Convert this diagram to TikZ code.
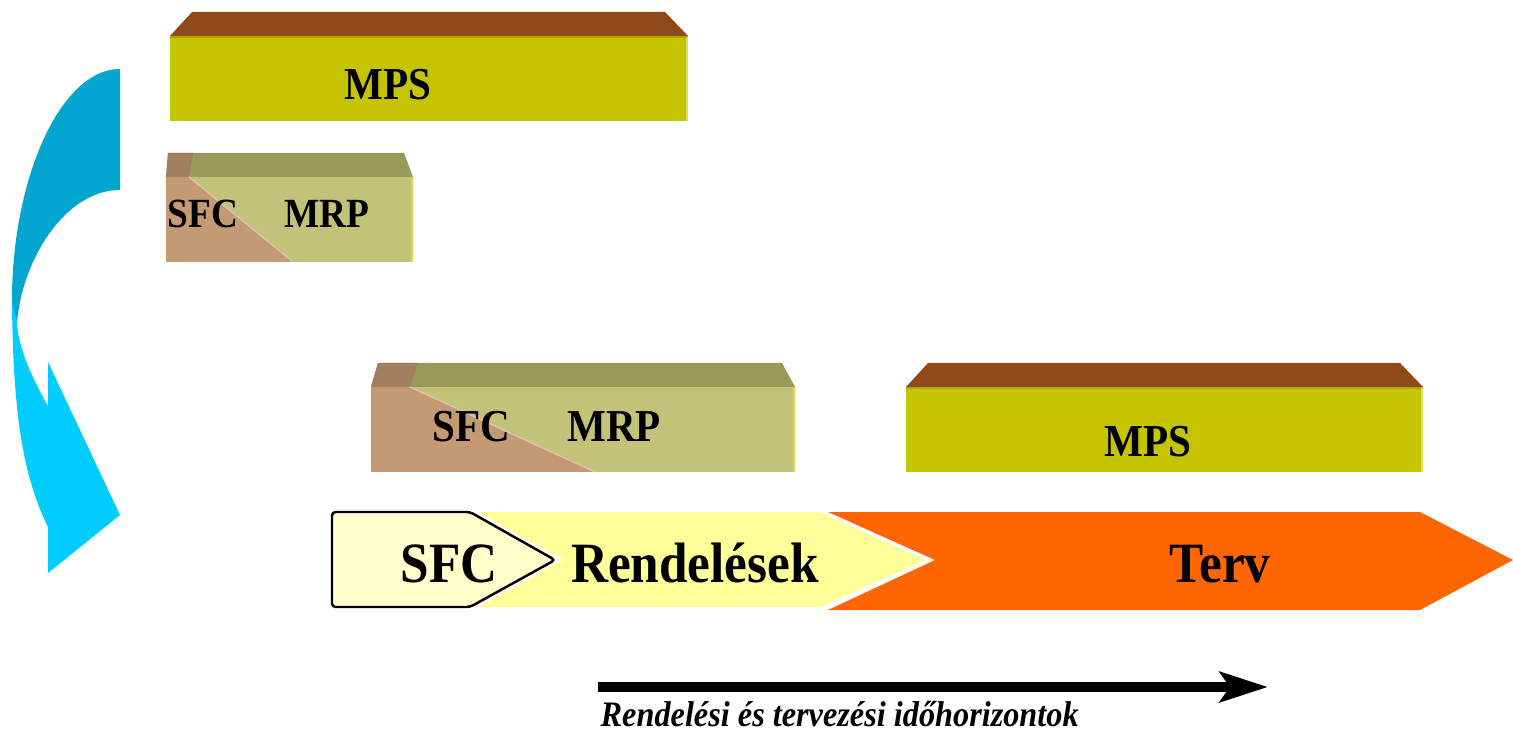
\documentclass[tikz,border=0pt]{standalone}
\usepackage{fontspec}
\setmainfont{Liberation Serif}[FakeStretch=0.9]
\usepackage{tikz}
\usetikzlibrary{arrows.meta}

\definecolor{mpsfront}{HTML}{C4C400}
\definecolor{mpstop}{HTML}{904A1A}
\definecolor{mrpfront}{HTML}{C2C278}
\definecolor{mrptop}{HTML}{999959}
\definecolor{sfcfront}{HTML}{C49A74}
\definecolor{sfctop}{HTML}{A07E5E}
\definecolor{backblue}{HTML}{00A6CF}
\definecolor{frontblue}{HTML}{00CCFF}
\definecolor{sfcfill}{HTML}{FFFFCC}
\definecolor{ordfill}{HTML}{FFFF99}
\definecolor{planfill}{HTML}{FF6600}

\begin{document}
\begin{tikzpicture}[x=0.01cm, y=-0.01cm]
      \tikzstyle{boxtext} = [
        font=\fontsize{13}{15}\selectfont\bfseries,
        anchor=base,
        inner sep=0pt
      ]

      \tikzstyle{smalltext} = [
        font=\fontsize{11.8}{14}\selectfont\bfseries,
        anchor=base,
        inner sep=0pt
      ]

      \tikzstyle{bartext} = [
        font=\fontsize{16.2}{19}\selectfont\bfseries,
        anchor=base,
        inner sep=0pt
      ]

      \tikzstyle{axistext} = [
        font=\fontsize{10.2}{12}\selectfont\bfseries\itshape,
        anchor=base west,
        inner sep=0pt
      ]

      \useasboundingbox (0,0) rectangle (1513,731);

      % curved arrow on the left
      \fill[frontblue] (12,290) .. controls (12,420) and (25,480) .. (48,527)
        -- (48,573) -- (120,515) -- (48,362) -- (48,406)
        .. controls (30,375) and (18,345) .. (17,323) -- cycle;
      \fill[backblue] (120,69) -- (120,190) .. controls (65,190) and (22,260) .. (17,323)
        -- (12,300) .. controls (12,180) and (60,69) .. (120,69) -- cycle;

      % upper MPS box
      \fill[mpstop] (170,36) -- (192,12) -- (665,12) -- (688,36) -- cycle;
      \fill[mpsfront] (170,36) rectangle (688,121);
      \draw[mpsfront!85!black] (170,37) -- (688,37);
      \draw[mpsfront!60!white] (687,37) -- (687,121);

      % upper SFC / MRP box
      \fill[mrptop] (168,153) -- (404,153) -- (413,177) -- (166,177) -- cycle;
      \fill[sfctop] (168,153) -- (193,153) -- (189,177) -- (166,177) -- cycle;
      \fill[mrpfront] (166,177) rectangle (413,262);
      \fill[sfcfront] (166,177) -- (189,177) -- (293,262) -- (166,262) -- cycle;
      \draw[sfcfront!60!white] (189,177) -- (293,262);
      \draw[mrpfront!60!yellow] (412,177) -- (412,262);

      % lower SFC / MRP box
      \fill[mrptop] (378,363) -- (782,363) -- (795,387) -- (371,387) -- cycle;
      \fill[sfctop] (378,363) -- (418,363) -- (410,387) -- (371,387) -- cycle;
      \fill[mrpfront] (371,387) rectangle (795,472);
      \fill[sfcfront] (371,387) -- (410,387) -- (595,472) -- (371,472) -- cycle;
      \draw[sfcfront!60!white] (410,387) -- (595,472);
      \draw[mrpfront!60!yellow] (794,387) -- (794,472);

      % lower MPS box
      \fill[mpstop] (906,387) -- (928,363) -- (1400,363) -- (1423,387) -- cycle;
      \fill[mpsfront] (906,387) rectangle (1423,472);
      \draw[mpsfront!85!black] (906,388) -- (1423,388);
      \draw[mpsfront!60!white] (1422,388) -- (1422,472);

      % horizon bar
      \fill[planfill] (828,512) -- (1420,512) -- (1513,560) -- (1420,610)
        -- (828,610) -- (935,560) -- cycle;
      \fill[ordfill] (478,512) -- (820,512) -- (925,560) -- (820,607)
        -- (478,607) -- (563,560) -- cycle;
      \draw[fill=sfcfill, line width=0.7pt, rounded corners=1pt] (332,512)
        -- (470,512) -- (555,560) -- (470,607) -- (332,607) -- cycle;

      \node[boxtext] (mps1) at (388,100) {MPS};
      \node[smalltext] (sfc1) at (203,228) {SFC};
      \node[smalltext] (mrp1) at (327,228) {MRP};
      \node[boxtext] (sfc2) at (471,442) {SFC};
      \node[boxtext] (mrp2) at (614,442) {MRP};
      \node[boxtext] (mps2) at (1148,457) {MPS};
      \node[bartext] (sfcbar) at (449,582) {SFC};
      \node[bartext] (orders) at (695,582) {Rendelések};
      \node[bartext] (plan) at (1220,582) {Terv};

      \coordinate (tstart) at (598,687);
      \coordinate (tend) at (1268,687);
      \draw[line width=2.65pt, -{Stealth[length=0.48cm, width=0.3cm, inset=0.1cm]}]
        (tstart) -- (tend);
      \node[axistext] (horizon) at (600,726) {Rendelési és tervezési időhorizontok};
    \end{tikzpicture}
\end{document}
